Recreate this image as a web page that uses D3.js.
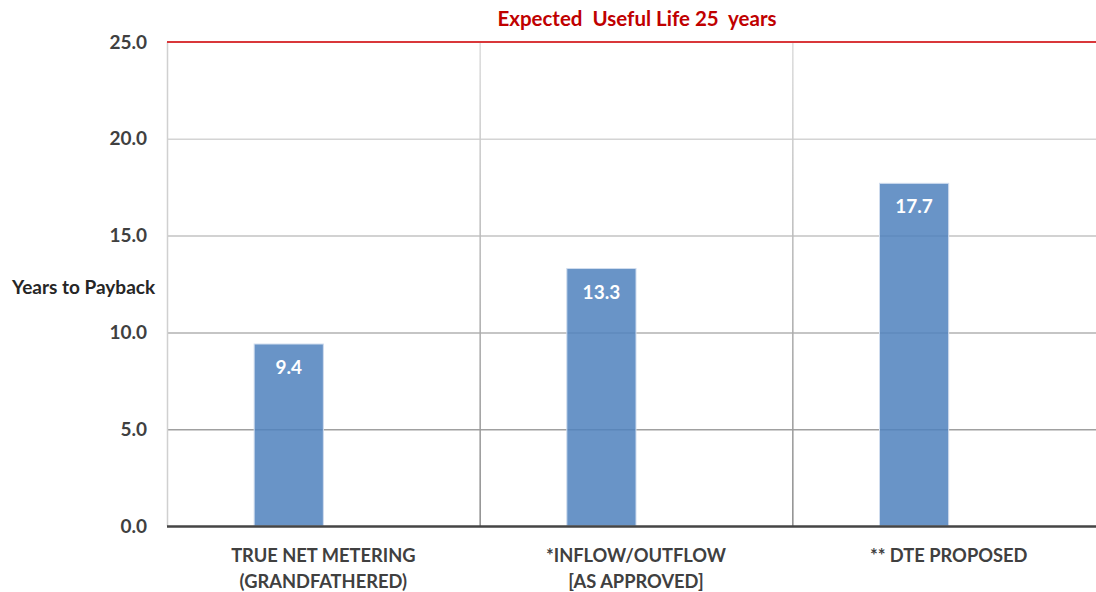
<!DOCTYPE html>
<html>
<head>
<meta charset="utf-8">
<script src="https://cdn.jsdelivr.net/npm/d3@7"></script>
<style>
  body { margin: 0; background: #fff; }
  text { font-family: Lato, "Open Sans", sans-serif; font-weight: bold; }
</style>
</head>
<body>
<svg id="chart" width="1096" height="592"></svg>
<script>
"use strict";

// chart data
var categories = [
    ["TRUE NET METERING", "(GRANDFATHERED)"],
    ["*INFLOW/OUTFLOW", "[AS APPROVED]"],
    ["** DTE PROPOSED"]
];
var paybackYears = [9.4, 13.3, 17.7];
var seriesKeys = ["payback", "blank"];   // second slot is empty in the original
var yTicks = [0, 5, 10, 15, 20, 25];
var usefulLife = 25;
var titleText = "Expected  Useful Life 25  years";
var yLabel = "Years to Payback";

var svg = d3.select("#chart");

var margin = { top: 42, left: 167, right: -9, bottom: 66 };
var width = 1096 - margin.left - margin.right;
var height = 592 - margin.top - margin.bottom;

var g = svg.append("g")
    .attr("transform", "translate(" + margin.left + "," + margin.top + ")");

// scales
var x = d3.scaleBand()
    .domain(d3.range(categories.length))
    .range([0, width]);

var xSub = d3.scaleBand()
    .domain(seriesKeys)
    .range([0, x.bandwidth()])
    .paddingOuter(1.26);

var y = d3.scaleLinear()
    .domain([0, 25])
    .range([height, 0]);

// gridlines get darker towards the bottom
var gridColor = d3.scaleLinear()
    .domain([0, 20])
    .range(["#8f8f8f", "#d4d4d4"]);

var defs = svg.append("defs");
var grad = defs.append("linearGradient")
    .attr("id", "vgrad")
    .attr("gradientUnits", "userSpaceOnUse")
    .attr("x1", 0).attr("y1", 0)
    .attr("x2", 0).attr("y2", height);
grad.append("stop").attr("offset", "0%").attr("stop-color", "#dcdcdc");
grad.append("stop").attr("offset", "100%").attr("stop-color", "#8a8a8a");

// horizontal gridlines
g.selectAll(".hgrid")
    .data(yTicks.filter(function (d) { return d > 0 && d < 25; }))
    .enter()
    .append("line")
    .attr("class", "hgrid")
    .attr("x1", 0)
    .attr("x2", width)
    .attr("y1", function (d) { return y(d) + 0.5; })
    .attr("y2", function (d) { return y(d) + 0.5; })
    .style("stroke", function (d) { return gridColor(d); })
    .style("stroke-width", 1.5);

// vertical category separators
g.selectAll(".vgrid")
    .data(d3.range(1, categories.length))
    .enter()
    .append("line")
    .attr("class", "vgrid")
    .attr("x1", function (d) { return x(d) + 0.5; })
    .attr("x2", function (d) { return x(d) + 0.5; })
    .attr("y1", 0)
    .attr("y2", height)
    .style("stroke", "url(#vgrad)")
    .style("stroke-width", 1.5);

// left axis line
g.append("line")
    .attr("x1", 0.5).attr("x2", 0.5)
    .attr("y1", 0).attr("y2", height)
    .style("stroke", "#d0d0d0")
    .style("stroke-width", 1.5);

// bars
g.selectAll(".bar")
    .data(paybackYears)
    .enter()
    .append("rect")
    .attr("class", "bar")
    .attr("x", function (d, i) { return x(i) + xSub("payback"); })
    .attr("y", function (d) { return y(d); })
    .attr("width", xSub.bandwidth())
    .attr("height", function (d) { return height - y(d); })
    .style("fill", "#4f81bd")
    .style("fill-opacity", 0.85)
    .style("stroke", "#cfdcee")
    .style("stroke-width", 1);

// bar value labels
g.selectAll(".barLabel")
    .data(paybackYears)
    .enter()
    .append("text")
    .attr("class", "barLabel")
    .attr("x", function (d, i) { return x(i) + xSub("payback") + xSub.bandwidth() / 2; })
    .attr("y", function (d) { return y(d) + 30; })
    .attr("text-anchor", "middle")
    .style("fill", "#ffffff")
    .style("font-size", "19px")
    .text(function (d) { return d.toFixed(1); });

// bottom axis line
g.append("line")
    .attr("x1", 0).attr("x2", width)
    .attr("y1", height + 0.5).attr("y2", height + 0.5)
    .style("stroke", "#454545")
    .style("stroke-width", 2.5);

// useful life line
g.append("line")
    .attr("x1", 0).attr("x2", width)
    .attr("y1", y(usefulLife)).attr("y2", y(usefulLife))
    .style("stroke", "#d9373a")
    .style("stroke-width", 2);

// y tick labels
g.selectAll(".yLabel")
    .data(yTicks)
    .enter()
    .append("text")
    .attr("class", "yLabel")
    .attr("x", -20)
    .attr("y", function (d) { return y(d); })
    .attr("dy", "0.35em")
    .attr("text-anchor", "end")
    .style("fill", "#404040")
    .style("font-size", "19px")
    .text(function (d) { return d.toFixed(1); });

// x category labels
var xl = g.selectAll(".xLabel")
    .data(categories)
    .enter()
    .append("text")
    .attr("class", "xLabel")
    .attr("text-anchor", "middle")
    .style("fill", "#404040")
    .style("font-size", "18.3px");

xl.selectAll("tspan")
    .data(function (d, i) { return d.map(function (s) { return { s: s, i: i }; }); })
    .enter()
    .append("tspan")
    .attr("x", function (d) { return x(d.i) + x.bandwidth() / 2; })
    .attr("y", function (d, j) { return height + 36 + j * 26; })
    .text(function (d) { return d.s; });

// y axis title
svg.append("text")
    .attr("x", 12)
    .attr("y", 294)
    .style("fill", "#262626")
    .style("font-size", "19px")
    .text(yLabel);

// title
svg.append("text")
    .attr("x", 637)
    .attr("y", 26)
    .attr("text-anchor", "middle")
    .style("fill", "#c00000")
    .style("font-size", "20.5px")
    .attr("xml:space", "preserve")
    .text(titleText);
</script>
</body>
</html>
